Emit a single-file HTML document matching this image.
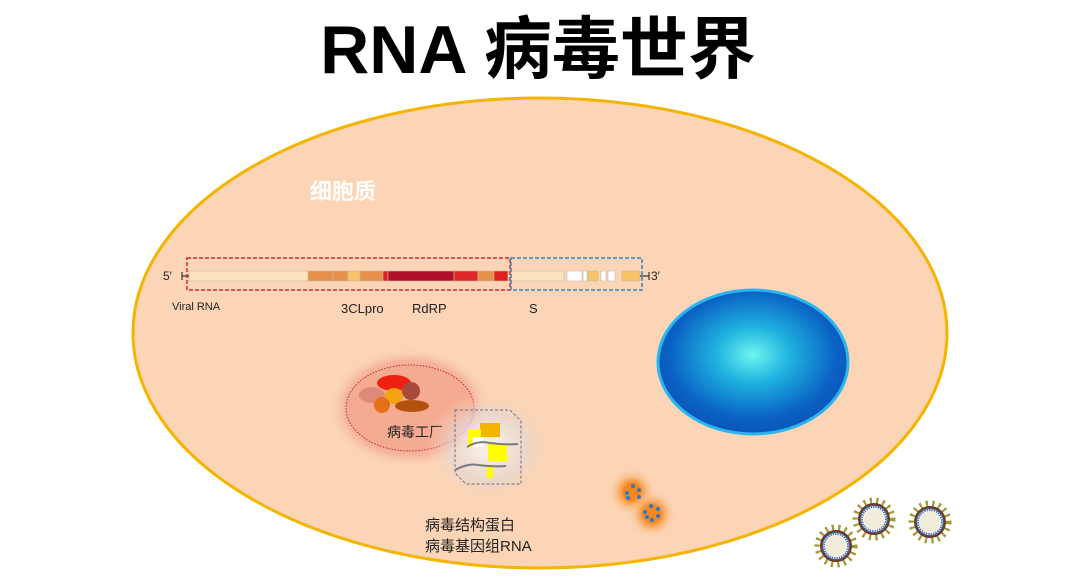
<!DOCTYPE html>
<html><head><meta charset="utf-8"><style>
html,body{margin:0;padding:0;background:#fff;}
svg{display:block;}
text{font-family:"Liberation Sans","Noto Sans CJK SC",sans-serif;}
</style></head><body>
<svg width="1080" height="586" viewBox="0 0 1080 586" xmlns="http://www.w3.org/2000/svg">
<defs>
<radialGradient id="nuc" cx="50%" cy="45%" r="55%">
<stop offset="0" stop-color="#6ff5ee"/><stop offset="0.35" stop-color="#1fb3e0"/><stop offset="0.8" stop-color="#0a62c4"/><stop offset="1" stop-color="#0b55b8"/>
</radialGradient>
<radialGradient id="fglow"><stop offset="0.55" stop-color="#f3a48c"/><stop offset="0.8" stop-color="#f4a894" stop-opacity="0.7"/><stop offset="1" stop-color="#fbd5b5" stop-opacity="0"/></radialGradient>
<radialGradient id="bglow"><stop offset="0.2" stop-color="#f6eeea" stop-opacity="0.9"/><stop offset="0.65" stop-color="#e4d6d4" stop-opacity="0.6"/><stop offset="1" stop-color="#fbd5b5" stop-opacity="0"/></radialGradient>
<radialGradient id="oglow"><stop offset="0.35" stop-color="#f7861c"/><stop offset="1" stop-color="#fbd5b5" stop-opacity="0"/></radialGradient>
<g id="vir">
<circle r="18" fill="none" stroke="#a59a3a" stroke-width="7" stroke-dasharray="2.2 4"/>
<circle r="14.5" fill="none" stroke="#6b3a2a" stroke-width="3"/>
<circle r="12.5" fill="none" stroke="#4a7ab8" stroke-width="3" stroke-dasharray="1.5 1"/>
<circle r="10.5" fill="#f2ecda"/>
</g>
</defs>
<text x="538" y="73" font-size="68" font-weight="bold" text-anchor="middle" fill="#000">RNA 病毒世界</text>
<ellipse cx="540" cy="333" rx="407" ry="235" fill="#fbd5b5" stroke="#f5b400" stroke-width="3"/>
<text x="310" y="199" font-size="22" font-weight="bold" fill="#fff">细胞质</text>
<ellipse cx="753" cy="362" rx="95" ry="72" fill="url(#nuc)" stroke="#29b6f0" stroke-width="3"/>
<g stroke="#c9b8a8" stroke-width="0.6">
<rect x="189" y="271" width="119" height="10" fill="#fde3bf"/>
<rect x="308" y="271" width="25" height="10" fill="#e8914a"/>
<rect x="333" y="271" width="15" height="10" fill="#e8914a"/>
<rect x="348" y="271" width="12" height="10" fill="#f7c468"/>
<rect x="360" y="271" width="23" height="10" fill="#e8914a"/>
<rect x="383" y="271" width="5" height="10" fill="#e02020"/>
<rect x="388" y="271" width="66" height="10" fill="#b0102a"/>
<rect x="454" y="271" width="24" height="10" fill="#e02828"/>
<rect x="478" y="271" width="16" height="10" fill="#e8914a"/>
<rect x="494" y="271" width="14" height="10" fill="#e02020"/>
<rect x="508" y="271" width="56" height="10" fill="#fde3bf"/>
<rect x="567" y="271" width="15" height="10" fill="#fff"/>
<rect x="583" y="271" width="4" height="10" fill="#fff"/>
<rect x="588" y="271" width="10" height="10" fill="#f7c468"/>
<rect x="601" y="271" width="5" height="10" fill="#fff"/>
<rect x="608" y="271" width="7" height="10" fill="#fff"/>
<rect x="622" y="271" width="18" height="10" fill="#f7c468"/>
</g>
<g stroke="#333" stroke-width="1.2"><line x1="182" y1="276" x2="189" y2="276"/><line x1="182" y1="272" x2="182" y2="280"/><line x1="640" y1="276" x2="649" y2="276"/><line x1="649" y1="272" x2="649" y2="280"/></g>
<rect x="187" y="258" width="323" height="32" fill="none" stroke="#d42a2a" stroke-width="1.5" stroke-dasharray="4 2"/>
<rect x="511" y="258" width="131" height="32" fill="none" stroke="#2f86c8" stroke-width="1.5" stroke-dasharray="4 2"/>
<text x="163" y="280" font-size="12" fill="#222">5′</text>
<text x="651" y="280" font-size="12" fill="#222">3′</text>
<text x="172" y="310" font-size="11" fill="#222">Viral RNA</text>
<text x="341" y="313" font-size="13" fill="#222">3CLpro</text>
<text x="412" y="313" font-size="13" fill="#222">RdRP</text>
<text x="529" y="313" font-size="13" fill="#222">S</text>
<ellipse cx="410" cy="408" rx="82" ry="60" fill="url(#fglow)"/>
<ellipse cx="410" cy="408" rx="64" ry="43" fill="#f5ab92" stroke="#c0282a" stroke-width="1" stroke-dasharray="1.5 1.5"/>
<ellipse cx="394" cy="383" rx="17" ry="8" fill="#ee2010"/>
<ellipse cx="372" cy="395" rx="13" ry="8" fill="#de8a78"/>
<ellipse cx="394" cy="396" rx="9" ry="8" fill="#f3a410"/>
<circle cx="411" cy="391" r="9" fill="#a84a3a"/>
<circle cx="382" cy="405" r="8" fill="#e4701a"/>
<ellipse cx="412" cy="406" rx="17" ry="6" fill="#b2520e"/>
<text x="387" y="437" font-size="14" fill="#222">病毒工厂</text>
<ellipse cx="488" cy="447" rx="62" ry="55" fill="url(#bglow)"/>
<path d="M455 410 H510 L521 421 V484 H466 L455 473 Z" fill="none" stroke="#66708a" stroke-width="1" stroke-dasharray="3 2"/>
<rect x="480" y="423" width="20" height="14" fill="#f3b400"/>
<rect x="468" y="429" width="13" height="18" fill="#ffff00"/>
<rect x="473" y="437" width="10" height="10" fill="#fff"/>
<rect x="488" y="444" width="19" height="17" fill="#ffff00"/>
<rect x="487" y="465" width="6" height="13" fill="#ffff00"/>
<path d="M467 447 Q478 440 490 443 Q505 445 518 444" stroke="#7a7a86" stroke-width="2" fill="none"/>
<path d="M455 470 Q468 463 478 465 Q495 467 506 466" stroke="#7a7a86" stroke-width="2" fill="none"/>
<text x="425" y="530" font-size="15" fill="#222">病毒结构蛋白</text>
<text x="425" y="551" font-size="15" fill="#222">病毒基因组RNA</text>
<circle cx="632" cy="492" r="24" fill="url(#oglow)"/>
<circle cx="652" cy="514" r="24" fill="url(#oglow)"/>
<g fill="#2a7ad0"><circle cx="633" cy="486" r="2"/><circle cx="639" cy="490" r="2"/><circle cx="627" cy="493" r="2"/><circle cx="628" cy="498" r="2"/><circle cx="639" cy="497" r="2"/>
<circle cx="651" cy="506" r="2"/><circle cx="658" cy="509" r="2"/><circle cx="645" cy="512" r="2"/><circle cx="647" cy="517" r="2"/><circle cx="658" cy="516" r="2"/><circle cx="652" cy="520" r="2"/></g>
<use href="#vir" x="836" y="546"/>
<use href="#vir" x="874" y="519"/>
<use href="#vir" x="930" y="522"/>
</svg>
</body></html>
